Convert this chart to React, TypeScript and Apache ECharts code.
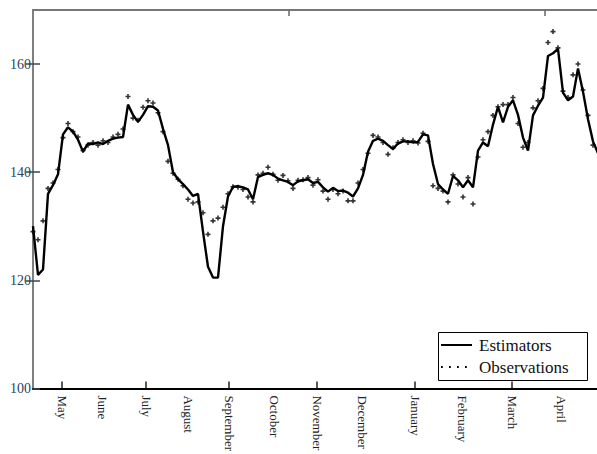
import { useEffect, useRef } from "react";
import * as echarts from "echarts";

// Month labels along the bottom axis (positions in sample-index units)
const months = ["May", "June", "July", "August", "September", "October", "November", "December", "January", "February", "March", "April"];
const monthPositions = [5.8, 13.8, 22.6, 31.0, 39.2, 48.2, 56.8, 65.8, 76.4, 85.8, 95.8, 105.6];
const bottomTickPositions = [5.8, 22.6, 39.2, 56.8, 76.4, 95.8];
const topTickPositions = [51.2, 102.4];
const yTickValues = [100, 120, 140, 160];
const rightTickValues = [120, 140, 160];

// Estimator series (one value per sample)
const estimators = [
  130, 121, 122, 136, 137.6, 139.6, 147, 148.3, 147.5, 146,
  143.8, 145.3, 145.2, 145.5, 145.2, 145.8, 146.2, 146.4, 146.5, 152.5,
  150.6, 149.3, 150.6, 152.2, 152.1, 151.4, 148, 145, 140, 138.7,
  137.8, 136.8, 135.6, 136, 129, 122.5, 120.5, 120.5, 130, 135.5,
  137.3, 137.4, 137.2, 136.8, 135, 139.1, 139.5, 139.8, 139.5, 138.8,
  138.5, 138.2, 137.6, 138.3, 138.5, 138.7, 138, 138.2, 137.2, 136.4,
  137.1, 136.5, 136.6, 136.2, 135.5, 137, 139.5, 143.8, 145.8, 146.2,
  145.8, 145, 144.3, 145.3, 145.7, 145.7, 145.5, 145.6, 147, 146.8,
  141.5, 137.8, 136.8, 136, 139.3, 138.5, 137.2, 138.5, 137.2, 144,
  145.5, 144.8, 148.8, 152.1, 149.2, 152.1, 153.3, 150.6, 146.4, 144,
  150.5, 152.3, 153.8, 161.5, 162, 162.8, 154.7, 153.3, 154, 159.2,
  154.9, 149.8, 145.7, 143.5,
];

// Observation series (one value per sample)
const observations = [
  129, 127.5, 131, 137, 138, 140.5, 146.4, 149, 147.5, 146.5,
  144, 145, 145.5, 145, 145.8, 145.5, 146.5, 147, 148, 154,
  150, 149.6, 152, 153.2, 152.8, 151, 147.5, 142, 139.8, 138.7,
  137.5, 135, 134.3, 134.5, 132.5, 128.5, 131, 131.5, 133.5, 136,
  137.3, 137.2, 136.8, 135.4, 134.5, 139.5, 139.8, 140.9, 139.6, 138.5,
  139.4, 138.4, 137, 138.5, 138.6, 139, 137.6, 138.6, 136.5, 135,
  136.8, 136, 136.5, 134.7, 134.7, 138, 140.5, 143.5, 146.8, 146.5,
  145.5, 143.3, 144.5, 145.5, 146, 145.5, 145.8, 145.4, 147.2, 145.7,
  137.5, 137, 136.5, 134.5, 139.5, 137.8, 135.4, 139, 134.1, 142.8,
  146, 147.5, 150.5, 152.1, 152.5, 152.5, 153.8, 149, 144.6, 145.5,
  151.9, 153.2, 155.5, 164, 166, 163, 155, 153.8, 158, 160,
  155.2, 150.5, 145, 142.5,
];

const serif = "'Liberation Serif', 'DejaVu Serif', serif";

export default function App() {
  const ref = useRef<HTMLDivElement>(null);

  useEffect(() => {
    if (!ref.current) return;
    const chart = echarts.init(ref.current, undefined, { renderer: "svg" });
    const monthName = (v: number) => {
      let best = 0;
      let d = Infinity;
      monthPositions.forEach((p, i) => {
        const dd = Math.abs(p - v);
        if (dd < d) { d = dd; best = i; }
      });
      return months[best];
    };
    chart.setOption({
      animation: false,
      backgroundColor: "#fff",
      grid: { left: 33, top: 10, right: 0, bottom: 63, containLabel: false },
      xAxis: [
        {
          type: "value",
          position: "bottom",
          min: 0,
          max: 112.8,
          axisLine: { show: true, lineStyle: { color: "#000", width: 2 } },
          axisTick: { show: true, inside: true, length: 7, lineStyle: { color: "#222", width: 1.5 }, customValues: bottomTickPositions },
          axisLabel: {
            show: true,
            rotate: -90,
            margin: 7,
            fontFamily: serif,
            fontSize: 13,
            color: "#222",
            customValues: monthPositions,
            formatter: (v: number) => monthName(v),
          },
          splitLine: { show: false },
        },
        {
          type: "value",
          position: "top",
          min: 0,
          max: 112.8,
          axisLine: { show: true, lineStyle: { color: "#777", width: 2 } },
          axisTick: { show: true, inside: true, length: 6, lineStyle: { color: "#666", width: 1.5 }, customValues: topTickPositions },
          axisLabel: { show: false },
          splitLine: { show: false },
        },
      ],
      yAxis: [
        {
          type: "value",
          position: "left",
          min: 100,
          max: 170,
          axisLine: { show: true, lineStyle: { color: "#777", width: 1.5 } },
          axisTick: { show: true, inside: true, length: 7, lineStyle: { color: "#444", width: 1.5 }, customValues: yTickValues },
          axisLabel: { show: true, margin: 2, fontFamily: serif, fontSize: 14, color: "#2b3f5f", customValues: yTickValues },
          splitLine: { show: false },
        },
        {
          type: "value",
          position: "right",
          min: 100,
          max: 170,
          axisLine: { show: true, lineStyle: { color: "#777", width: 1.5 } },
          axisTick: { show: true, inside: true, length: 7, lineStyle: { color: "#444", width: 1.5 }, customValues: rightTickValues },
          axisLabel: { show: false },
          splitLine: { show: false },
        },
      ],
      series: [
        {
          name: "Estimators",
          type: "line",
          xAxisIndex: 0,
          yAxisIndex: 0,
          data: estimators.map((v, i) => [i, v]),
          showSymbol: false,
          symbol: "none",
          lineStyle: { color: "#000", width: 2.4 },
          clip: true,
          z: 3,
        },
        {
          name: "Observations",
          type: "scatter",
          xAxisIndex: 0,
          yAxisIndex: 0,
          data: observations.map((v, i) => [i, v]),
          symbol: "path://M1.7,0H3.3V5H1.7ZM0,1.7H5V3.3H0Z",
          symbolSize: 5,
          itemStyle: { color: "#000" },
          clip: true,
          z: 4,
        },
      ],
      graphic: [
        {
          type: "group",
          left: 438,
          top: 332,
          children: [
            { type: "rect", shape: { x: 0.5, y: 0.5, width: 149, height: 48 }, style: { fill: "#fff", stroke: "#000", lineWidth: 1 } },
            { type: "line", shape: { x1: 3, y1: 13, x2: 34, y2: 13 }, style: { stroke: "#000", lineWidth: 2 } },
            { type: "line", shape: { x1: 3, y1: 35, x2: 34, y2: 35 }, style: { stroke: "#000", lineWidth: 1.8, lineDash: [1.8, 6.2] } },
            { type: "text", x: 41, y: 13, style: { text: "Estimators", font: `17px ${serif}`, fill: "#111", textVerticalAlign: "middle", textBaseline: "middle" } },
            { type: "text", x: 41, y: 35, style: { text: "Observations", font: `17px ${serif}`, fill: "#111", textVerticalAlign: "middle", textBaseline: "middle" } },
          ],
        },
      ],
    });
    return () => chart.dispose();
  }, []);

  return (
    <div
      ref={ref}
      style={{ position: "absolute", left: 0, top: 0, width: 597, height: 454, background: "#fff" }}
    />
  );
}
